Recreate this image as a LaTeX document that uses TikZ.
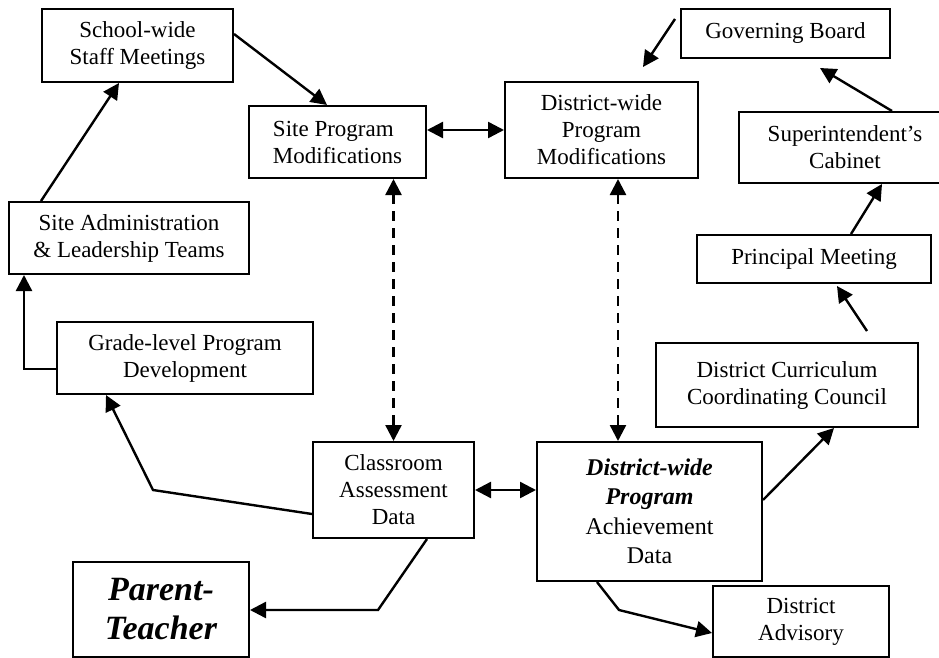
\documentclass[tikz,border=0pt]{standalone}
\usepackage{fontspec}
\setmainfont{Liberation Serif}
\usetikzlibrary{arrows.meta,calc}
\tikzset{
  box/.style={draw,line width=2pt,inner sep=0pt,align=center,font=\fontsize{23}{27}\selectfont},
  arr/.style={line width=2.4pt,-{Triangle[length=16pt,width=16pt]}},
  darr/.style={line width=2.4pt,{Triangle[length=16pt,width=16pt]}-{Triangle[length=16pt,width=16pt]}},
  dasharr/.style={darr,dash pattern=on 10pt off 7pt}
}
\begin{document}
\begin{tikzpicture}[x=1pt,y=-1pt]
\useasboundingbox (0,0) rectangle (939,658);
\fill[white] (0,0) rectangle (939,658);
% nodes
\node[box,minimum width=191pt,minimum height=73pt] (sw) at (137.5,45.5) {School-wide\\Staff Meetings};
\node[box,minimum width=240pt,minimum height=72pt] (sa) at (129,238) {Site Administration\\\& Leadership Teams};
\node[box,align=left,minimum width=177pt,minimum height=72pt] (spm) at (337.5,142) {Site Program\\Modifications};
\node[box,minimum width=193pt,minimum height=96pt] (dpm) at (601.5,130) {District-wide\\Program\\Modifications};
\node[box,minimum width=209pt,minimum height=49pt] (gb) at (785.5,33.5) {Governing Board};
\node[box,minimum width=212pt,minimum height=71pt] (sc) at (845,147.5) {Superintendent’s\\Cabinet};
\node[box,minimum width=234pt,minimum height=48pt] (pm) at (814,259) {Principal Meeting};
\node[box,minimum width=262pt,minimum height=84pt] (dcc) at (787,385) {District Curriculum\\Coordinating Council};
\node[box,minimum width=256pt,minimum height=72pt] (gl) at (185,358) {Grade-level Program\\Development};
\node[box,minimum width=161pt,minimum height=96pt] (cad) at (393.5,490) {Classroom\\Assessment\\Data};
\node[box,minimum width=225pt,minimum height=139pt,font=\fontsize{24}{29.5}\selectfont] (dad) at (649.5,511.5) {{\bfseries\itshape District-wide}\\{\bfseries\itshape Program}\\Achievement\\Data};
\node[box,minimum width=176pt,minimum height=95pt,font=\fontsize{34}{39}\selectfont\bfseries\itshape] (pt) at (161,609.5) {Parent-\\Teacher};
\node[box,minimum width=176pt,minimum height=71pt] (da) at (801,621.5) {District\\Advisory};
% coordinates
\coordinate (c1) at (153,490);
\coordinate (c2) at (378,610);
\coordinate (c3) at (619,610);
\coordinate (f1) at (675,19);
\coordinate (f2) at (643,67);
% connectors
\draw[arr] ([xshift=33pt]sa.north west) -- ([xshift=78pt]sw.south west);
\draw[arr] ([yshift=11.5pt]sw.east) -- ([xshift=79pt]spm.north west);
\draw[darr] (spm.east |- dpm.west) -- (dpm.west);
\draw[dasharr] (cad.north |- spm.south) -- (cad.north);
\draw[dasharr] ([xshift=16.5pt]dpm.south) -- ([xshift=16.5pt]dpm.south |- dad.north);
\draw[darr] (cad.east) -- (cad.east -| dad.west);
\draw[arr] ([yshift=-11pt]gl.west) -| ([xshift=16pt]sa.south west);
\draw[arr] ([yshift=-24pt]cad.west) -- (c1) -- ([xshift=50pt]gl.south west);
\draw[arr] ([xshift=-48pt]cad.south east) -- (c2) -- (c2 -| pt.east);
\draw[arr] ([yshift=11.5pt]dad.east) -- ([xshift=-85pt]dcc.south east);
\draw[arr] ([xshift=61pt]dad.south west) -- (c3) -- ([yshift=-11.5pt]da.west);
\draw[arr] ([xshift=80pt,yshift=11pt]dcc.north) -- ([xshift=23pt,yshift=-2pt]pm.south);
\draw[arr] ([xshift=37pt]pm.north) -- ([xshift=37pt]sc.south);
\draw[arr] ([xshift=47pt]sc.north) -- ([xshift=34.5pt,yshift=-9pt]gb.south);
\draw[arr] (f1) -- (f2);
\end{tikzpicture}
\end{document}
